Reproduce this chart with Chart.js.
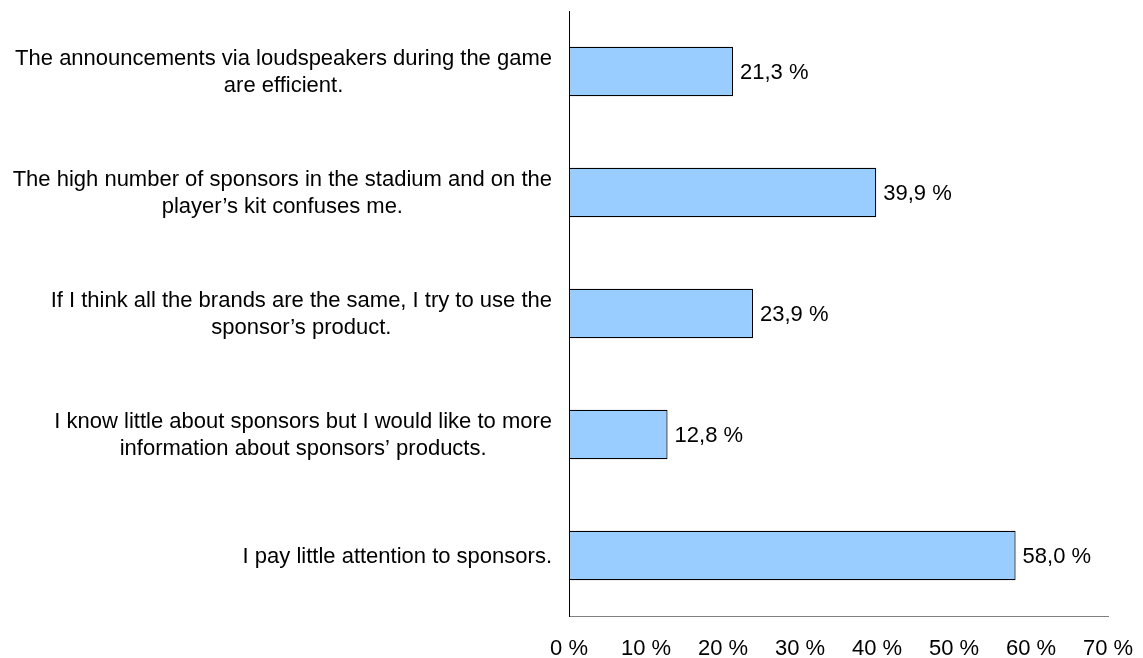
<!DOCTYPE html>
<html>
<head>
<meta charset="utf-8">
<title>Attitudes towards sponsors</title>
<script src="https://cdn.jsdelivr.net/npm/chart.js@4/dist/chart.umd.min.js"></script>
<style>
  html, body { margin: 0; padding: 0; background: #ffffff; }
  #wrap { width: 1143px; height: 658px; }
</style>
</head>
<body>
<div id="wrap"><canvas id="chart" width="1143" height="658"></canvas></div>
<script>
// Survey statements (each entry is split into its printed lines)
const statements = [
  ['The announcements via loudspeakers during the game', 'are efficient.'],
  ['The high number of sponsors in the stadium and on the', 'player\u2019s kit confuses me.'],
  ['If I think all the brands are the same, I try to use the', 'sponsor\u2019s product.'],
  ['I know little about sponsors but I would like to more', 'information about sponsors\u2019 products.'],
  ['I pay little attention to sponsors.']
];

// Share of respondents agreeing, in percent
const agreement = [21.3, 39.9, 23.9, 12.8, 58.0];

// Percentage axis ticks
const percentTicks = [0, 10, 20, 30, 40, 50, 60, 70];

const FONT_FAMILY = "'Liberation Sans', Arial, Helvetica, sans-serif";
const FONT_SIZE = 22;

const fmtPercent = v => v.toFixed(1).replace('.', ',') + ' %';

// Draws the statement text to the left of the category axis:
// lines centred on each other, block right-aligned to the axis.
const statementLabels = {
  id: 'statementLabels',
  afterDraw(chart) {
    const ctx = chart.ctx;
    const yScale = chart.scales.y;
    const right = chart.chartArea.left - 17;
    const lineH = 27;
    ctx.save();
    ctx.font = FONT_SIZE + 'px ' + FONT_FAMILY;
    ctx.fillStyle = '#000';
    ctx.textAlign = 'center';
    ctx.textBaseline = 'middle';
    statements.forEach((lines, i) => {
      const y = yScale.getPixelForTick(i);
      const maxW = Math.max(...lines.map(l => ctx.measureText(l).width));
      const cx = right - maxW / 2;
      const y0 = y - (lines.length - 1) * lineH / 2;
      lines.forEach((l, k) => ctx.fillText(l, cx, y0 + k * lineH + 1));
    });
    ctx.restore();
  }
};

// Writes each bar's value just past its end
const valueLabels = {
  id: 'valueLabels',
  afterDatasetsDraw(chart) {
    const ctx = chart.ctx;
    const meta = chart.getDatasetMeta(0);
    ctx.save();
    ctx.font = FONT_SIZE + 'px ' + FONT_FAMILY;
    ctx.fillStyle = '#000';
    ctx.textAlign = 'left';
    ctx.textBaseline = 'middle';
    meta.data.forEach((bar, i) => {
      ctx.fillText(fmtPercent(agreement[i]), bar.x + 7, bar.y + 1);
    });
    ctx.restore();
  }
};

new Chart(document.getElementById('chart'), {
  type: 'bar',
  data: {
    labels: statements,
    datasets: [{
      data: agreement,
      backgroundColor: '#99ccff',
      borderColor: '#000000',
      borderWidth: 1.2,
      borderSkipped: false,
      categoryPercentage: 1,
      barPercentage: 0.41
    }]
  },
  options: {
    indexAxis: 'y',
    responsive: false,
    animation: false,
    events: [],
    layout: { padding: { top: 11, right: 35, left: 0, bottom: 0 } },
    plugins: {
      legend: { display: false },
      tooltip: { enabled: false },
      title: { display: false }
    },
    scales: {
      x: {
        type: 'linear',
        position: 'bottom',
        min: percentTicks[0],
        max: percentTicks[percentTicks.length - 1],
        afterBuildTicks(scale) {
          scale.ticks = percentTicks.map(v => ({ value: v }));
        },
        afterFit(scale) {
          scale.height = 42;
          scale.paddingLeft = 0;
          scale.paddingRight = 0;
        },
        grid: { display: false, drawTicks: false },
        border: { display: true, color: '#808080', width: 1 },
        ticks: {
          padding: 20,
          maxRotation: 0,
          autoSkip: false,
          color: '#000',
          font: { family: FONT_FAMILY, size: FONT_SIZE },
          callback: v => v + ' %'
        }
      },
      y: {
        type: 'category',
        position: 'left',
        afterFit(scale) { scale.width = 569; },
        grid: { display: false, drawTicks: false },
        border: { display: true, color: '#000000', width: 1 },
        ticks: { display: false }
      }
    }
  },
  plugins: [statementLabels, valueLabels]
});
</script>
</body>
</html>
